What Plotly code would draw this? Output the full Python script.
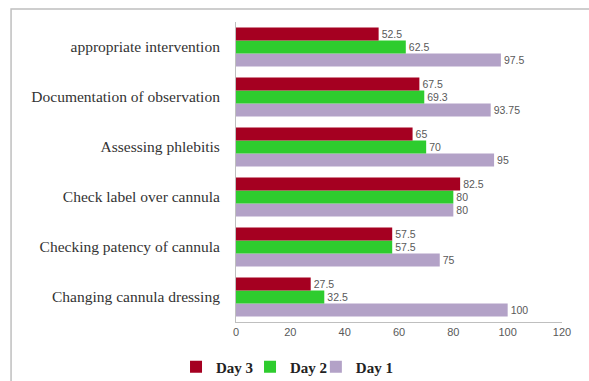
import plotly.graph_objects as go

categories = [
    "Changing cannula dressing",
    "Checking patency of cannula",
    "Check label over cannula",
    "Assessing phlebitis",
    "Documentation of observation",
    "appropriate intervention",
]
day1 = [100, 75, 80, 95, 93.75, 97.5]
day2 = [32.5, 57.5, 80, 70, 69.3, 62.5]
day3 = [27.5, 57.5, 82.5, 65, 67.5, 52.5]

series = [
    ("Day 1", day1, "#B3A2C7", "legend3"),
    ("Day 2", day2, "#2ECC2E", "legend2"),
    ("Day 3", day3, "#A50021", "legend"),
]

fig = go.Figure()
for name, vals, color, leg in series:
    fig.add_trace(go.Bar(
        y=categories, x=vals, name=f"<b>{name}</b>", orientation="h",
        marker=dict(color=color, line=dict(width=0)),
        text=[f"{v:g}" for v in vals], textposition="outside",
        textfont=dict(family="Liberation Sans", size=10.5, color="#595959"),
        cliponaxis=False, legend=leg,
    ))

leg_common = dict(orientation="h", yanchor="middle", y=-0.15, xanchor="left",
                  font=dict(family="Liberation Serif", size=15, color="#222222"),
                  bgcolor="rgba(0,0,0,0)")

fig.update_layout(
    width=589, height=381,
    margin=dict(l=236, r=27, t=22, b=59, autoexpand=False),
    paper_bgcolor="white", plot_bgcolor="white",
    barmode="group", bargap=0.22, bargroupgap=0,
    showlegend=True,
    legend=dict(x=-0.184, **leg_common),
    legend2=dict(x=0.043, **leg_common),
    legend3=dict(x=0.245, **leg_common),
    xaxis=dict(range=[0, 120], dtick=20, showgrid=False, zeroline=False,
               showline=True, linecolor="#BFBFBF", linewidth=1,
               ticks="", tickfont=dict(family="Liberation Sans", size=11, color="#595959")),
    yaxis=dict(showgrid=False, zeroline=False, showline=True,
               linecolor="#BFBFBF", linewidth=1, ticks="",
               tickfont=dict(family="Liberation Serif", size=15.5, color="#333333"),
               ticklabelstandoff=12),
    shapes=[dict(type="rect", xref="paper", yref="paper",
                 x0=-0.690, x1=1.2, y0=-0.3, y1=1.043,
                 line=dict(color="#BFBFBF", width=1.5), layer="below")],
)

fig.write_html("out.html")
